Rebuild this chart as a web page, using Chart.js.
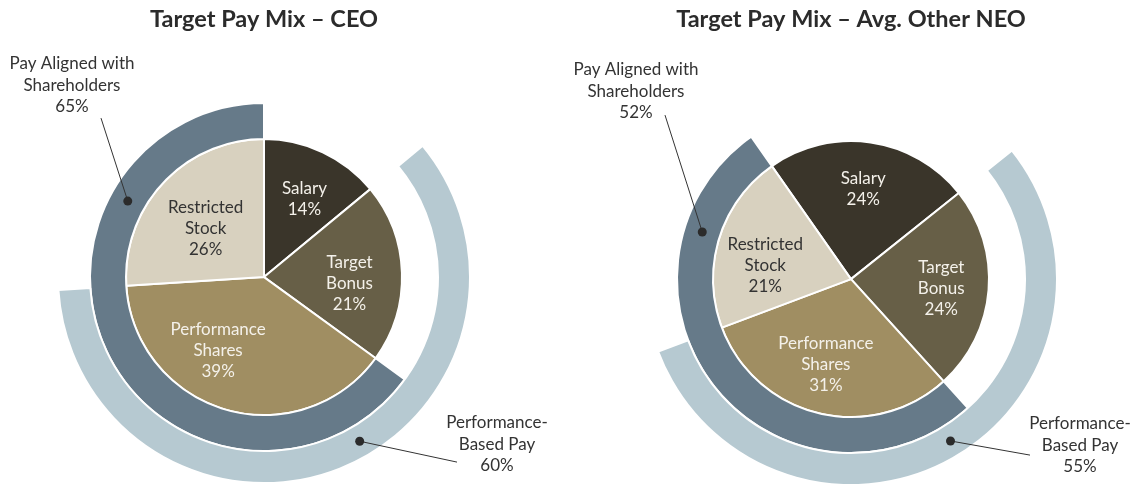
<!DOCTYPE html>
<html>
<head>
<meta charset="utf-8">
<script src="https://cdn.jsdelivr.net/npm/chart.js@4.4.0/dist/chart.umd.min.js"></script>
<style>
  body { margin: 0; background: #fff; }
  .panel { position: absolute; top: 0; width: 565px; height: 484px; }
  #ceoWrap { left: 0; }
  #neoWrap { left: 565px; }
</style>
</head>
<body>
<div class="panel" id="ceoWrap"><canvas id="ceoChart"></canvas></div>
<div class="panel" id="neoWrap"><canvas id="neoChart"></canvas></div>
<script>
const components = ['Salary', 'Target Bonus', 'Performance Shares', 'Restricted Stock'];
const componentLines = [['Salary'], ['Target', 'Bonus'], ['Performance', 'Shares'], ['Restricted', 'Stock']];
const ceoMix = [14, 21, 39, 26];
const neoMix = [24, 24, 31, 21];
const ceoAligned = 65;
const ceoPerfBased = 60;
const neoAligned = 52;
const neoPerfBased = 55;

const sliceColors = ['#3a352a', '#675f47', '#a08e62', '#d8d1bf'];
const sliceText = ['#f4f1ea', '#f4f1ea', '#f4f1ea', '#333333'];
const alignedColor = '#667a89';
const perfColor = '#b6c9d1';
const textColor = '#333333';
const FONT = 'Lato, "Open Sans", sans-serif';

// label placement: mid-angle at 62% of the radius, with small hand nudges
const sliceLabelPlugin = {
  id: 'sliceLabels',
  afterDatasetsDraw(chart, args, opts) {
    const meta = chart.getDatasetMeta(2);
    const data = chart.data.datasets[2].data;
    const nudge = opts.nudge || [];
    const ctx = chart.ctx;
    ctx.save();
    ctx.font = '17px ' + FONT;
    ctx.textAlign = 'center';
    ctx.textBaseline = 'middle';
    meta.data.forEach((arc, i) => {
      const p = arc.getProps(['x', 'y', 'startAngle', 'endAngle', 'outerRadius'], true);
      const mid = (p.startAngle + p.endAngle) / 2;
      const r = p.outerRadius * 0.62;
      const n = nudge[i] || [0, 0];
      const cx = p.x + Math.cos(mid) * r + n[0];
      const cy = p.y + Math.sin(mid) * r + n[1];
      const lines = componentLines[i].concat([data[i] + '%']);
      ctx.fillStyle = sliceText[i];
      lines.forEach((t, j) => ctx.fillText(t, cx, cy + (j - (lines.length - 1) / 2) * 21));
    });
    ctx.restore();
  }
};

const calloutPlugin = {
  id: 'callouts',
  afterDatasetsDraw(chart, args, opts) {
    const ctx = chart.ctx;
    ctx.save();
    ctx.font = '17px ' + FONT;
    ctx.textAlign = 'center';
    ctx.textBaseline = 'middle';
    (opts.items || []).forEach(item => {
      const arc = chart.getDatasetMeta(item.dataset).data[item.index];
      const p = arc.getProps(['x', 'y', 'startAngle', 'endAngle', 'innerRadius', 'outerRadius'], true);
      const a = p.startAngle + item.frac * (p.endAngle - p.startAngle);
      const rr = (p.innerRadius + p.outerRadius) / 2;
      const dx = p.x + Math.cos(a) * rr;
      const dy = p.y + Math.sin(a) * rr;
      ctx.strokeStyle = textColor;
      ctx.lineWidth = 1;
      ctx.beginPath();
      ctx.moveTo(p.x + item.lineDx, p.y + item.lineDy);
      ctx.lineTo(dx, dy);
      ctx.stroke();
      ctx.fillStyle = '#2b2b2b';
      ctx.beginPath();
      ctx.arc(dx, dy, 4.5, 0, Math.PI * 2);
      ctx.fill();
      ctx.fillStyle = textColor;
      item.text.forEach((t, j) => ctx.fillText(t, p.x + item.textDx, p.y + item.textDy + (j - (item.text.length - 1) / 2) * 21.5));
    });
    ctx.restore();
  }
};

function buildChart(id, title, mix, aligned, perfBased, rotation, padding, titlePad, nudge, callouts) {
  const ctx = document.getElementById(id).getContext('2d');
  return new Chart(ctx, {
    type: 'doughnut',
    data: {
      labels: components,
      datasets: [
        {
          label: 'Performance-Based Pay',
          data: [mix[0], perfBased, 100 - mix[0] - perfBased],
          backgroundColor: ['rgba(0,0,0,0)', perfColor, 'rgba(0,0,0,0)'],
          borderColor: '#fff',
          borderWidth: [0, 2, 0],
          weight: 32,
          clip: false,
        },
        {
          label: 'Pay Aligned with Shareholders',
          data: [100 - aligned, aligned],
          backgroundColor: ['rgba(0,0,0,0)', alignedColor],
          borderColor: '#fff',
          borderWidth: [0, 2],
          weight: 36,
          clip: false,
        },
        {
          label: 'Target Pay Mix',
          data: mix,
          backgroundColor: sliceColors,
          borderColor: '#fff',
          borderWidth: 2,
          weight: 138,
          clip: false,
        },
      ],
    },
    options: {
      responsive: true,
      maintainAspectRatio: false,
      animation: false,
      events: [],
      rotation,
      cutout: 0,
      radius: 206,
      layout: { padding },
      plugins: {
        legend: { display: false },
        tooltip: { enabled: false },
        title: {
          display: true,
          text: title,
          color: '#2b2b2b',
          font: { family: FONT, size: 23.5, weight: 'bold' },
          padding: titlePad,
        },
        sliceLabels: { nudge },
        callouts: { items: callouts },
      },
    },
    plugins: [sliceLabelPlugin, calloutPlugin],
  });
}

buildChart('ceoChart', 'Target Pay Mix \u2013 CEO', ceoMix, ceoAligned, ceoPerfBased, 0,
  { left: 0, right: 37, top: 0, bottom: 0 }, { top: 5, bottom: 37 },
  [[4, -1], [0, 9], [-22, -9], [4, 10]], [
    { dataset: 1, index: 1, frac: 0.74, text: ['Pay Aligned with', 'Shareholders', ceoAligned + '%'],
      textDx: -192, textDy: -192, lineDx: -163, lineDy: -159 },
    { dataset: 0, index: 1, frac: 0.46, text: ['Performance-', 'Based Pay', ceoPerfBased + '%'],
      textDx: 233, textDy: 167, lineDx: 193, lineDy: 185 },
  ]);

buildChart('neoChart', 'Target Pay Mix \u2013 Avg. Other NEO', neoMix, neoAligned, neoPerfBased, -35,
  { left: 7, right: 0, top: 0, bottom: 0 }, { top: 5, bottom: 41 },
  [[0, -5], [5, 3], [-5, 2], [-4, 12]], [
    { dataset: 1, index: 1, frac: 0.8, text: ['Pay Aligned with', 'Shareholders', neoAligned + '%'],
      textDx: -215, textDy: -188, lineDx: -186, lineDy: -164 },
    { dataset: 0, index: 1, frac: 0.49, text: ['Performance-', 'Based Pay', neoPerfBased + '%'],
      textDx: 229, textDy: 166, lineDx: 179, lineDy: 176 },
  ]);
</script>
</body>
</html>
